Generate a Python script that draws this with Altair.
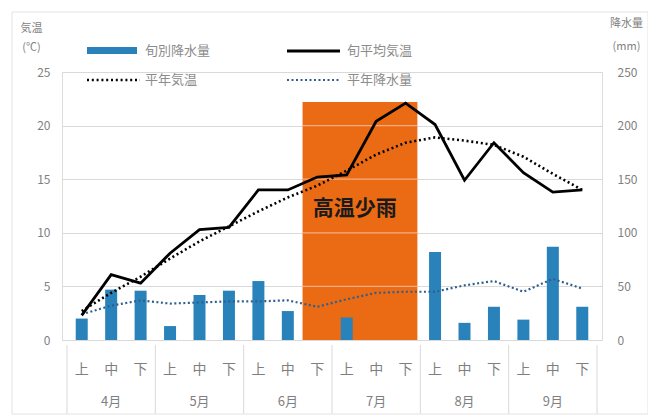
import altair as alt
import pandas as pd

# ---- data ----
slots = ["上", "中", "下"] * 6
month_names = ["4月", "5月", "6月", "7月", "8月", "9月"]
precip = [20, 47, 46, 13, 42, 46, 55, 27, 0, 21, 0, 0, 82, 16, 31, 19, 87, 31]
temp = [2.3, 6.1, 5.3, 8.1, 10.3, 10.5, 14.0, 14.0, 15.2, 15.4, 20.4, 22.1, 20.1, 14.9, 18.4, 15.6, 13.8, 14.0]
normal_temp = [2.7, 4.4, 5.9, 7.6, 9.2, 10.6, 12.0, 13.3, 14.4, 15.8, 17.3, 18.4, 18.9, 18.6, 18.2, 17.1, 15.5, 14.0]
normal_precip = [24, 32, 37, 34, 35, 36, 36, 37, 31, 38, 44, 45, 45, 51, 55, 45, 57, 48]
highlight = {"x0": [7.5], "x1": [11.4], "y0": [0], "y1": [22.2]}
highlight_label = "高温少雨"
temp_ticks = [0, 5, 10, 15, 20, 25]
precip_ticks = [0, 50, 100, 150, 200, 250]

FONT = "Noto Sans CJK JP"
GREY = "#7f7f7f"
BLUE = "#2a82bb"
ORANGE = "#EB6A14"
DOT_BLUE = "#2f5f8f"

df = pd.DataFrame({
    "idx": list(range(len(slots))),
    "slot": slots,
    "precip": precip,
    "temp": temp,
    "normal_temp": normal_temp,
    "normal_precip": normal_precip,
})
months_df = pd.DataFrame({"month": month_names, "idx": [3 * i + 1 for i in range(len(month_names))]})
sep_df = pd.DataFrame({"x": [3 * i - 0.5 for i in range(len(month_names) + 1)]})
hl_df = pd.DataFrame(highlight)
hl_grid = pd.DataFrame({"v": [5, 10, 15, 20], "x0": highlight["x0"] * 4, "x1": highlight["x1"] * 4})
hl_text = pd.DataFrame({"label": [highlight_label], "x": [9.27], "y": [12.2]})

xs = alt.Scale(domain=[-0.5, 17.5], nice=False, zero=False)
yT = alt.Scale(domain=[0, 25], nice=False, zero=True)
yP = alt.Scale(domain=[0, 250], nice=False, zero=True)

axis_left = alt.Axis(
    orient="left", values=temp_ticks, title=["気温", "(℃)"], titleAngle=0,
    titleAlign="center", titleBaseline="top", titleX=-31, titleY=-50,
    titleLineHeight=19, titleFontSize=11, titleFontWeight="normal", titleColor=GREY,
    titleFont=FONT, labelFont=FONT, labelColor=GREY, labelFontSize=12, labelPadding=12,
    domain=False, ticks=False, grid=True, gridColor="#d9d9d9", gridWidth=1,
)
axis_right = alt.Axis(
    orient="right", values=precip_ticks, title=["降水量", "(mm)"], titleAngle=0,
    titleAlign="center", titleBaseline="top", titleX=24, titleY=-55,
    titleLineHeight=23, titleFontSize=11, titleFontWeight="normal", titleColor=GREY,
    titleFont=FONT, labelFont=FONT, labelColor=GREY, labelFontSize=12, labelPadding=15,
    domain=False, ticks=False, grid=False,
)

X = lambda f: alt.X(f, type="quantitative", scale=xs, axis=None)

rect = alt.Chart(hl_df).mark_rect(color=ORANGE).encode(
    x=X("x0"), x2="x1", y=alt.Y("y0:Q", scale=yT, axis=axis_left), y2="y1")
rect_grid = alt.Chart(hl_grid).mark_rule(color="white", opacity=0.45, strokeWidth=1.2).encode(
    x=X("x0"), x2="x1", y=alt.Y("v:Q", scale=yT, axis=None))
bars = alt.Chart(df).mark_bar(size=12, color=BLUE).encode(
    x=X("idx"), y=alt.Y("precip:Q", scale=yP, axis=axis_right))
np_line = alt.Chart(df).mark_line(color=DOT_BLUE, strokeWidth=2.2, strokeDash=[2, 2.5]).encode(
    x=X("idx"), y=alt.Y("normal_precip:Q", scale=yP, axis=None))
nt_line = alt.Chart(df).mark_line(color="black", strokeWidth=2.6, strokeDash=[2, 2.8]).encode(
    x=X("idx"), y=alt.Y("normal_temp:Q", scale=yT, axis=None))
t_line = alt.Chart(df).mark_line(color="black", strokeWidth=2.8).encode(
    x=X("idx"), y=alt.Y("temp:Q", scale=yT, axis=None))
hl_label = alt.Chart(hl_text).mark_text(font=FONT, fontSize=21, fontWeight="bold", color="#1a1a1a").encode(
    x=X("x"), y=alt.Y("y:Q", scale=yT, axis=None), text="label:N")

slot_labels = alt.Chart(df).mark_text(font=FONT, fontSize=14, color=GREY).encode(
    x=X("idx"), y=alt.value(298), text="slot:N")
month_labels = alt.Chart(months_df).mark_text(font=FONT, fontSize=13, color=GREY).encode(
    x=X("idx"), y=alt.value(330), text="month:N")
seps = alt.Chart(sep_df).mark_rule(color="#d9d9d9", strokeWidth=1).encode(
    x=X("x"), y=alt.value(273), y2=alt.value(342))

one = pd.DataFrame({"a": [0]})
def leg_text(label, x, y):
    return alt.Chart(one).mark_text(font=FONT, fontSize=13, color="#8c8c8c", align="left", baseline="middle").encode(
        x=alt.value(x), y=alt.value(y), text=alt.value(label))

leg = [
    alt.Chart(one).mark_rect(color=BLUE).encode(x=alt.value(25), x2=alt.value(75), y=alt.value(-25), y2=alt.value(-18)),
    leg_text("旬別降水量", 83, -21),
    alt.Chart(one).mark_rule(color="black", strokeWidth=2.8).encode(x=alt.value(225), x2=alt.value(278), y=alt.value(-21)),
    leg_text("旬平均気温", 285, -21),
    alt.Chart(one).mark_rule(color="black", strokeWidth=2.6, strokeDash=[2, 2.8]).encode(x=alt.value(25), x2=alt.value(78), y=alt.value(8)),
    leg_text("平年気温", 83, 8),
    alt.Chart(one).mark_rule(color=DOT_BLUE, strokeWidth=2.2, strokeDash=[2, 2.5]).encode(x=alt.value(225), x2=alt.value(278), y=alt.value(8)),
    leg_text("平年降水量", 285, 8),
]

frame = alt.Chart(one).mark_rect(fill=None, stroke="#e3e3e3", strokeWidth=1).encode(
    x=alt.value(-50), x2=alt.value(586), y=alt.value(-60), y2=alt.value(342))

chart = alt.layer(
    rect, rect_grid, bars, np_line, nt_line, t_line, hl_label,
    slot_labels, month_labels, seps, frame, *leg
).resolve_scale(y="independent").properties(
    width=540, height=268,
    autosize=alt.AutoSizeParams(type="none"),
    padding={"left": 54, "top": 64, "right": 46, "bottom": 76},
).configure_view(stroke=None).configure(font=FONT)

chart.save("out.html", embed_options={"renderer": "svg", "actions": False})
